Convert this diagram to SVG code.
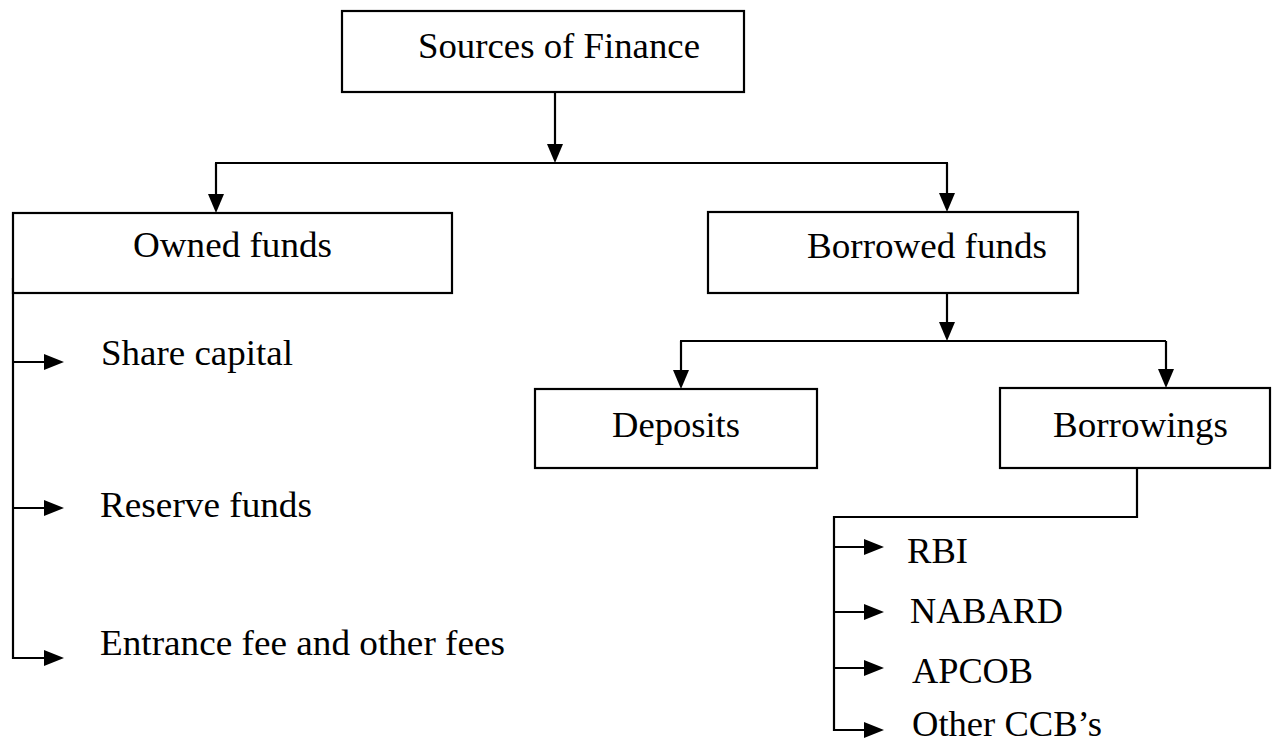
<svg xmlns="http://www.w3.org/2000/svg" xmlns:xlink="http://www.w3.org/1999/xlink" width="1273" height="742" viewBox="0 0 1273 742">
<defs>
<style>
.box{fill:#fff;stroke:#000;stroke-width:2.2}
.ln{fill:none;stroke:#000;stroke-width:2.2}
.hd{fill:#000;stroke:none}
.t{font-family:'Liberation Serif','DejaVu Serif',serif;font-size:35px;fill:#000}
</style>
<path id="hdown" class="hd" d="M-8,-19 L8,-19 L0,0 z"/>
<path id="hright" class="hd" d="M-20,-8 L-20,8 L0,0 z"/>
</defs>
<rect width="1273" height="742" fill="#fff"/>
<g id="connectors">
<line class="ln" x1="555" y1="92" x2="555" y2="150"/>
<use xlink:href="#hdown" x="555" y="163"/>
<line class="ln" x1="215" y1="163" x2="948" y2="163"/>
<line class="ln" x1="216" y1="163" x2="216" y2="200"/>
<use xlink:href="#hdown" x="216" y="213"/>
<line class="ln" x1="947" y1="163" x2="947" y2="200"/>
<use xlink:href="#hdown" x="947" y="212"/>
<line class="ln" x1="13" y1="278" x2="13" y2="659"/>
<line class="ln" x1="13" y1="362" x2="50" y2="362"/>
<use xlink:href="#hright" x="64" y="362"/>
<line class="ln" x1="13" y1="508" x2="50" y2="508"/>
<use xlink:href="#hright" x="64" y="508"/>
<line class="ln" x1="12" y1="658" x2="50" y2="658"/>
<use xlink:href="#hright" x="64" y="658"/>
<line class="ln" x1="947" y1="293" x2="947" y2="330"/>
<use xlink:href="#hdown" x="947" y="341"/>
<line class="ln" x1="680" y1="341" x2="1166" y2="341"/>
<line class="ln" x1="681" y1="341" x2="681" y2="375"/>
<use xlink:href="#hdown" x="681" y="389"/>
<line class="ln" x1="1166" y1="341" x2="1166" y2="375"/>
<use xlink:href="#hdown" x="1166" y="388"/>
<polyline class="ln" points="1137,468 1137,517 834,517 834,731"/>
<line class="ln" x1="834" y1="547" x2="870" y2="547"/>
<use xlink:href="#hright" x="884" y="547"/>
<line class="ln" x1="834" y1="612" x2="870" y2="612"/>
<use xlink:href="#hright" x="884" y="612"/>
<line class="ln" x1="834" y1="668" x2="870" y2="668"/>
<use xlink:href="#hright" x="884" y="668"/>
<line class="ln" x1="833" y1="730" x2="870" y2="730"/>
<use xlink:href="#hright" x="884" y="730"/>
</g>
<g id="sources">
<rect class="box" x="342" y="11" width="402" height="81"/>
<text class="t" x="418" y="58" textLength="282" lengthAdjust="spacingAndGlyphs">Sources of Finance</text>
</g>
<g id="owned">
<rect class="box" x="13" y="213" width="439" height="80"/>
<text class="t" x="133" y="257" textLength="199" lengthAdjust="spacingAndGlyphs">Owned funds</text>
</g>
<g id="borrowed">
<rect class="box" x="708" y="212" width="370" height="81"/>
<text class="t" x="807" y="258" textLength="240" lengthAdjust="spacingAndGlyphs">Borrowed funds</text>
</g>
<g id="share-capital">
<text class="t" x="101" y="365" textLength="192" lengthAdjust="spacingAndGlyphs">Share capital</text>
</g>
<g id="reserve-funds">
<text class="t" x="100" y="517" textLength="212" lengthAdjust="spacingAndGlyphs">Reserve funds</text>
</g>
<g id="entrance-fee">
<text class="t" x="100" y="655" textLength="405" lengthAdjust="spacingAndGlyphs">Entrance fee and other fees</text>
</g>
<g id="deposits">
<rect class="box" x="535" y="389" width="282" height="79"/>
<text class="t" x="612" y="437" textLength="128" lengthAdjust="spacingAndGlyphs">Deposits</text>
</g>
<g id="borrowings">
<rect class="box" x="1000" y="388" width="270" height="80"/>
<text class="t" x="1053" y="437" textLength="175" lengthAdjust="spacingAndGlyphs">Borrowings</text>
</g>
<g id="rbi"><text class="t" x="907" y="563" textLength="61" lengthAdjust="spacingAndGlyphs">RBI</text></g>
<g id="nabard"><text class="t" x="910" y="623" textLength="153" lengthAdjust="spacingAndGlyphs">NABARD</text></g>
<g id="apcob"><text class="t" x="912" y="683" textLength="121" lengthAdjust="spacingAndGlyphs">APCOB</text></g>
<g id="other-ccbs"><text class="t" x="912" y="736" textLength="190" lengthAdjust="spacingAndGlyphs">Other CCB’s</text></g>
</svg>
